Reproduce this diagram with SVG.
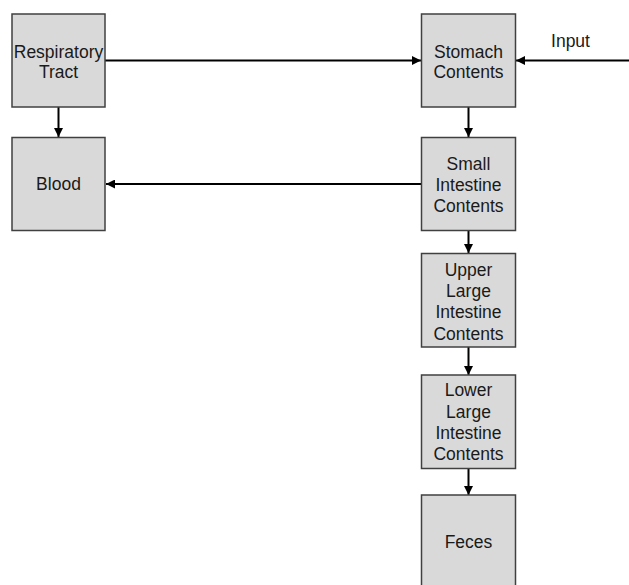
<svg xmlns="http://www.w3.org/2000/svg" width="629" height="585" viewBox="0 0 629 585">
<style>
.box{fill:#d9d9d9;stroke:#404040;stroke-width:1.5}
.t{font-family:"Liberation Sans",Arial,sans-serif;font-size:17.5px;fill:#1a1a1a;text-anchor:middle}
.c{stroke:#000;stroke-width:2;fill:none;marker-end:url(#ah)}
</style>
<defs>
<marker id="ah" viewBox="0 0 10 10" refX="10" refY="5" markerWidth="4.5" markerHeight="4.5" orient="auto" markerUnits="strokeWidth">
<path d="M0,0 L10,5 L0,10 z" fill="#000"/>
</marker>
</defs>
<rect width="629" height="585" fill="#fff"/>
<g id="connectors">
<path class="c" d="M105,60.5 H421"/>
<path class="c" d="M629,60.5 H516"/>
<path class="c" d="M58.5,107 V137"/>
<path class="c" d="M421,184 H106"/>
<path class="c" d="M468.5,107 V137"/>
<path class="c" d="M468.5,231 V253"/>
<path class="c" d="M468.5,347 V375"/>
<path class="c" d="M468.5,469 V495"/>
</g>
<g id="input-label"><text class="t" x="570.5" y="47">Input</text></g>
<g id="respiratory">
<rect class="box" x="12" y="14" width="93" height="93"/>
<text class="t" x="58.5" y="58">Respiratory</text>
<text class="t" x="58.5" y="78">Tract</text>
</g>
<g id="blood">
<rect class="box" x="12" y="137.5" width="93" height="93"/>
<text class="t" x="58.5" y="190">Blood</text>
</g>
<g id="stomach">
<rect class="box" x="421.5" y="14" width="94" height="93"/>
<text class="t" x="468.5" y="58">Stomach</text>
<text class="t" x="468.5" y="78">Contents</text>
</g>
<g id="small-intestine">
<rect class="box" x="421.5" y="137.5" width="94" height="93"/>
<text class="t" x="468.5" y="170">Small</text>
<text class="t" x="468.5" y="191">Intestine</text>
<text class="t" x="468.5" y="212">Contents</text>
</g>
<g id="upper-large">
<rect class="box" x="421.5" y="253.5" width="94" height="93.5"/>
<text class="t" x="468.5" y="275.5">Upper</text>
<text class="t" x="468.5" y="297">Large</text>
<text class="t" x="468.5" y="318">Intestine</text>
<text class="t" x="468.5" y="339.5">Contents</text>
</g>
<g id="lower-large">
<rect class="box" x="421.5" y="375" width="94" height="93.5"/>
<text class="t" x="468.5" y="396">Lower</text>
<text class="t" x="468.5" y="417.5">Large</text>
<text class="t" x="468.5" y="438.5">Intestine</text>
<text class="t" x="468.5" y="460">Contents</text>
</g>
<g id="feces">
<rect class="box" x="421.5" y="495" width="94" height="100"/>
<text class="t" x="468.5" y="548">Feces</text>
</g>
</svg>
